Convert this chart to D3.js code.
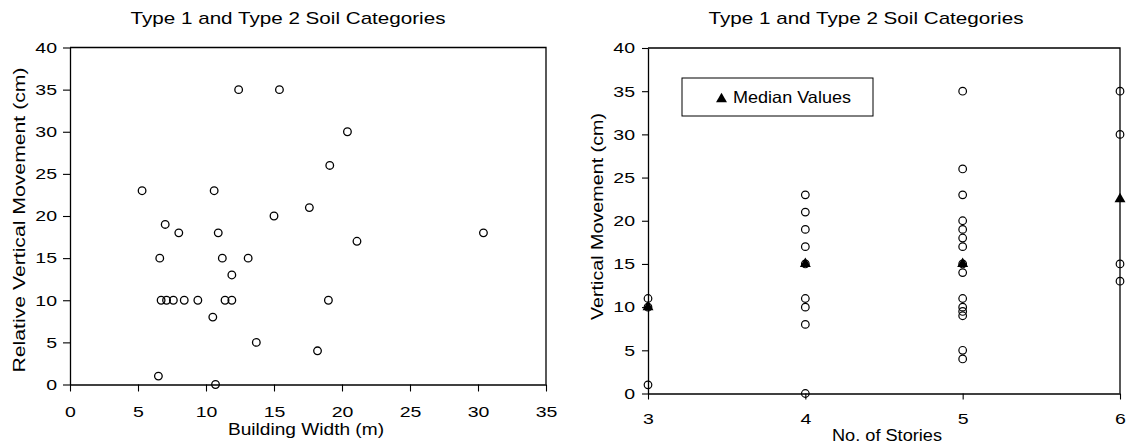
<!DOCTYPE html>
<html>
<head>
<meta charset="utf-8">
<script src="https://cdn.jsdelivr.net/npm/d3@7"></script>
<style>
  body { margin: 0; background: #fff; }
  svg text { font-family: "Liberation Sans", Arial, sans-serif; fill: #000; }
</style>
</head>
<body>
<svg id="chart" width="1128" height="446"></svg>
<script>
// Left panel: building width (m) vs relative vertical movement (cm)
const widthVals = [12.4, 15.4, 20.4, 19.1, 5.3, 10.6, 17.6, 15.0, 7.0, 8.0, 10.9, 30.4, 21.1,
  6.6, 11.2, 13.1, 11.9, 6.7, 7.1, 7.6, 8.4, 9.4, 11.4, 11.9, 19.0, 10.5, 13.7, 18.2, 6.5, 10.7];
const movementVals = [35, 35, 30, 26, 23, 23, 21, 20, 19, 18, 18, 18, 17,
  15, 15, 15, 13, 10, 10, 10, 10, 10, 10, 10, 10, 8, 5, 4, 1, 0];

// Right panel: no. of stories vs vertical movement (cm)
const storyVals = [3, 3, 3,
  4, 4, 4, 4, 4, 4, 4, 4, 4,
  5, 5, 5, 5, 5, 5, 5, 5, 5, 5, 5, 5, 5, 5, 5,
  6, 6, 6, 6];
const storyMovement = [11, 10, 1,
  23, 21, 19, 17, 15, 11, 10, 8, 0,
  35, 26, 23, 20, 19, 18, 17, 15, 14, 11, 10, 9.5, 9, 5, 4,
  35, 30, 15, 13];
const medianStories = [3, 4, 5, 6];
const medianValues = [10, 15, 15, 22.5];

const titleText = 'Type 1 and Type 2 Soil Categories';
const leftXTicks = [0, 5, 10, 15, 20, 25, 30, 35];
const yTicks = [0, 5, 10, 15, 20, 25, 30, 35, 40];
const rightXTicks = [3, 4, 5, 6];

const svg = d3.select('#chart');

// the reference text is a bit wider than Liberation Sans, so widen it
function stretch(sel, k) {
  sel.each(function () {
    const w = this.getComputedTextLength();
    d3.select(this).attr('textLength', w * k).attr('lengthAdjust', 'spacingAndGlyphs');
  });
}

function addText(g, o) {
  const t = g.append('text')
    .attr('transform', `translate(${o.x},${o.y})` + (o.rotate ? ' rotate(-90)' : ''))
    .attr('text-anchor', 'middle')
    .style('font-size', o.size + 'px')
    .text(o.text);
  t.attr('textLength', o.len).attr('lengthAdjust', 'spacingAndGlyphs');
  return t;
}

function drawPanel(opts) {
  const { x0, x1, y0, y1, xDomain, xTicks } = opts;
  const x = d3.scaleLinear().domain(xDomain).range([x0, x1]);
  const y = d3.scaleLinear().domain([0, 40]).range([y1, y0]);

  const g = svg.append('g');

  // frame top/right
  g.append('path')
    .attr('d', `M${x0},${y0}H${x1}V${y1}`)
    .attr('fill', 'none').attr('stroke', '#000').attr('stroke-width', 1.3);

  const xAxis = g.append('g').attr('transform', `translate(0,${y1})`)
    .call(d3.axisBottom(x).tickValues(xTicks).tickFormat(d3.format('d'))
      .tickSize(opts.xTick).tickPadding(opts.xPad).tickSizeOuter(0));
  const yAxis = g.append('g').attr('transform', `translate(${x0},0)`)
    .call(d3.axisLeft(y).tickValues(yTicks).tickSize(opts.yTick).tickPadding(opts.yPad).tickSizeOuter(0));
  [xAxis, yAxis].forEach(a => {
    a.select('.domain').attr('stroke', '#000').attr('stroke-width', 1.3);
    a.selectAll('.tick line').attr('stroke', '#000').attr('stroke-width', 1.1);
    a.selectAll('text').style('font-size', '15px').attr('fill', '#000').call(stretch, 1.3);
  });

  addText(g, { x: opts.titleX, y: 24, size: 17, len: 315, text: titleText });
  addText(g, { x: opts.xLabel[1], y: opts.xLabel[2], size: 16, len: opts.xLabel[3], text: opts.xLabel[0] });
  addText(g, { x: opts.yLabel[1], y: opts.yLabel[2], size: 16, len: opts.yLabel[3], text: opts.yLabel[0], rotate: true });

  return { g, x, y };
}

// Left panel
const left = drawPanel({
  x0: 70, x1: 546, y0: 47.5, y1: 384.5,
  xDomain: [0, 35], xTicks: leftXTicks, xTick: 7, yTick: 7, xPad: 15, yPad: 6,
  titleX: 288,
  xLabel: ['Building Width (m)', 306, 435, 156],
  yLabel: ['Relative Vertical Movement (cm)', 25, 220, 305]
});

left.g.append('g').selectAll('circle')
  .data(widthVals).join('circle')
  .attr('cx', d => left.x(d))
  .attr('cy', (d, i) => left.y(movementVals[i]))
  .attr('r', 3.8)
  .attr('fill', 'none').attr('stroke', '#000').attr('stroke-width', 1.3);

// Right panel
const right = drawPanel({
  x0: 648, x1: 1120, y0: 48, y1: 393.5,
  xDomain: [3, 6], xTicks: rightXTicks, xTick: 6, yTick: 6, xPad: 13.5, yPad: 7,
  titleX: 866,
  xLabel: ['No. of Stories', 887, 441, 110],
  yLabel: ['Vertical Movement (cm)', 603, 216.5, 207]
});

right.g.append('g').selectAll('circle')
  .data(storyVals).join('circle')
  .attr('cx', d => right.x(d))
  .attr('cy', (d, i) => right.y(storyMovement[i]))
  .attr('r', 3.8)
  .attr('fill', 'none').attr('stroke', '#000').attr('stroke-width', 1.2);

const tri = d3.symbol().type(d3.symbolTriangle).size(52);
right.g.append('g').selectAll('path')
  .data(medianStories).join('path')
  .attr('d', tri)
  .attr('transform', (d, i) => `translate(${right.x(d)},${right.y(medianValues[i])})`)
  .attr('fill', '#000');

// Legend
const legend = right.g.append('g');
legend.append('rect')
  .attr('x', 682).attr('y', 78).attr('width', 191).attr('height', 38)
  .attr('fill', '#fff').attr('stroke', '#000').attr('stroke-width', 1);
legend.append('path')
  .attr('d', tri)
  .attr('transform', 'translate(721.5,99)')
  .attr('fill', '#000');
legend.append('text')
  .attr('x', 733).attr('y', 102.7)
  .style('font-size', '16.5px')
  .attr('textLength', 118).attr('lengthAdjust', 'spacingAndGlyphs')
  .text('Median Values');
</script>
</body>
</html>
